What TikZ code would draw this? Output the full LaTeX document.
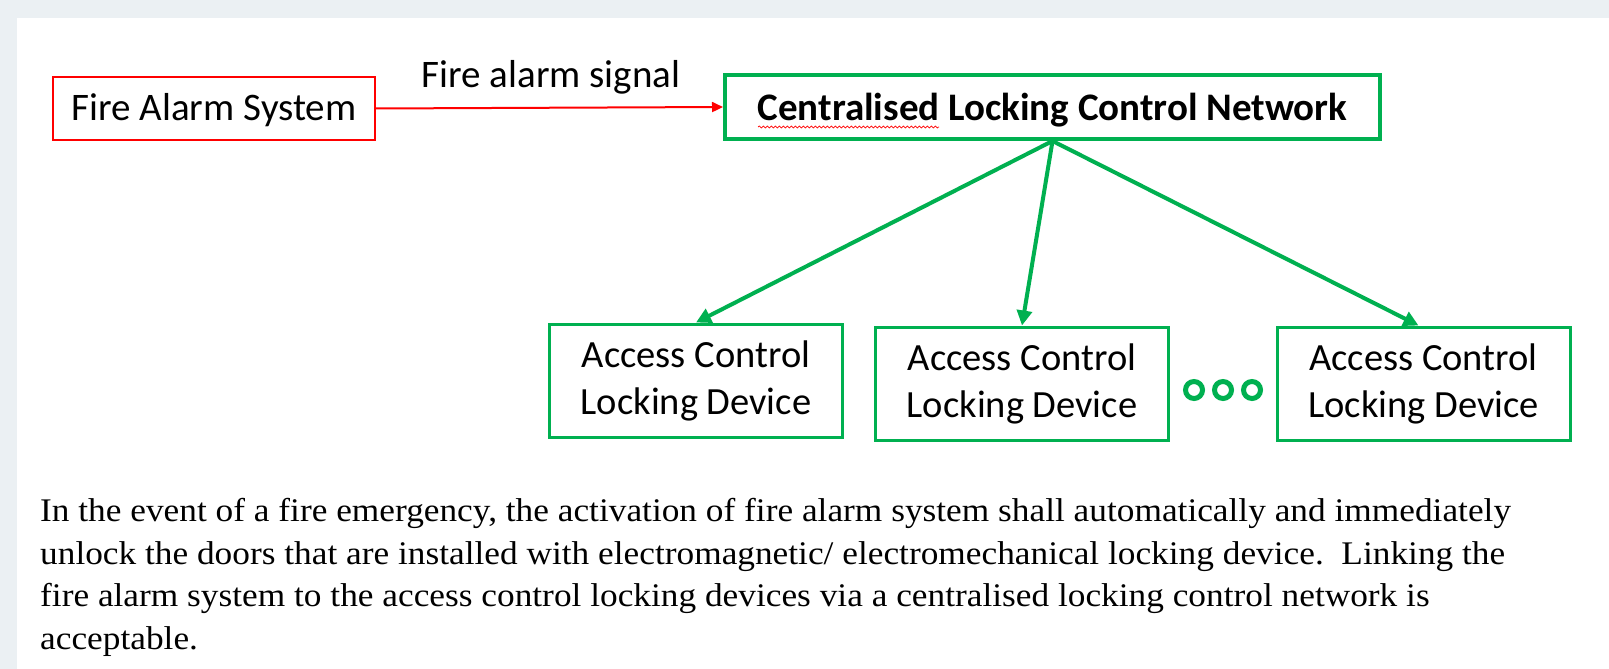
\documentclass[tikz,border=0pt]{standalone}
\usepackage{fontspec}
\setmainfont{Carlito}
\newfontfamily\tnr[FakeStretch=1.07]{Liberation Serif}
\usetikzlibrary{arrows.meta,decorations.pathmorphing,calc}
\definecolor{bggray}{HTML}{EBF0F3}
\definecolor{offgreen}{HTML}{00B050}
\definecolor{offred}{HTML}{FF0000}
\tikzset{
  sysbox/.style={draw=offred, line width=1.5pt, minimum width=322pt, minimum height=63pt, inner sep=0pt,
    font=\fontsize{39}{47}\selectfont, text height=31pt, text depth=8pt},
  netbox/.style={draw=offgreen, line width=4pt, minimum width=655pt, minimum height=64pt, inner sep=0pt,
    font=\bfseries\fontsize{39}{47}\selectfont, text height=34pt, text depth=8pt},
  devbox/.style={draw=offgreen, line width=3pt, minimum width=293pt, minimum height=113pt, inner sep=0pt,
    align=center, font=\fontsize{38.5}{47}\selectfont},
  greenarrow/.style={draw=offgreen, line width=4pt, -{Triangle[length=15pt,width=15pt]}},
  redarrow/.style={draw=offred, line width=2pt, -{Triangle[length=11pt,width=10pt]}},
  dotring/.style={draw=offgreen, line width=5pt, circle, minimum size=17pt, inner sep=0pt},
  label/.style={font=\fontsize{39}{47}\selectfont, inner sep=0pt},
  para/.style={font=\tnr\fontsize{33}{42.7}\selectfont, align=left, inner sep=0pt}
}
\begin{document}
\begin{tikzpicture}[x=1pt,y=-1pt]
\useasboundingbox (0,0) rectangle (1609,669);
\fill[bggray] (0,0) rectangle (1609,669);
\fill[white] (17,18) rectangle (1609,669);

\node[sysbox] (fas) at (214,108.5) {Fire Alarm System};
\node[netbox] (cln) at (1052.5,107) {Centralised Locking Control Network};
\node[label, anchor=base] (sig) at (551,88) {Fire alarm signal};
\draw[offred, line width=0.7pt, decorate, decoration={snake, amplitude=1pt, segment length=4pt}]
  (758,127) -- (939,127);

\node[devbox] (d1) at (696,380.5) {Access Control\\Locking Device};
\node[devbox] (d2) at (1022,383.5) {Access Control\\Locking Device};
\node[devbox] (d3) at (1423.5,383.5) {Access Control\\Locking Device};

\draw[redarrow] (fas.east) -- (cln.west);
\draw[greenarrow] (cln.south) -- (d1.north);
\draw[greenarrow] (cln.south) -- (d2.north);
\draw[greenarrow] (cln.south) -- ($(d3.north)+(-5,0)$);

\node[dotring] (o1) at (1194,390) {};
\node[dotring] (o2) at (1223,390) {};
\node[dotring] (o3) at (1252,390) {};

\node[para, anchor=north west] (txt) at (40,498) {In the event of a fire emergency, the activation of fire alarm system shall automatically and immediately\\
unlock the doors that are installed with electromagnetic/ electromechanical locking device.\ \ Linking the\\
fire alarm system to the access control locking devices via a centralised locking control network is\\
acceptable.};
\end{tikzpicture}
\end{document}
